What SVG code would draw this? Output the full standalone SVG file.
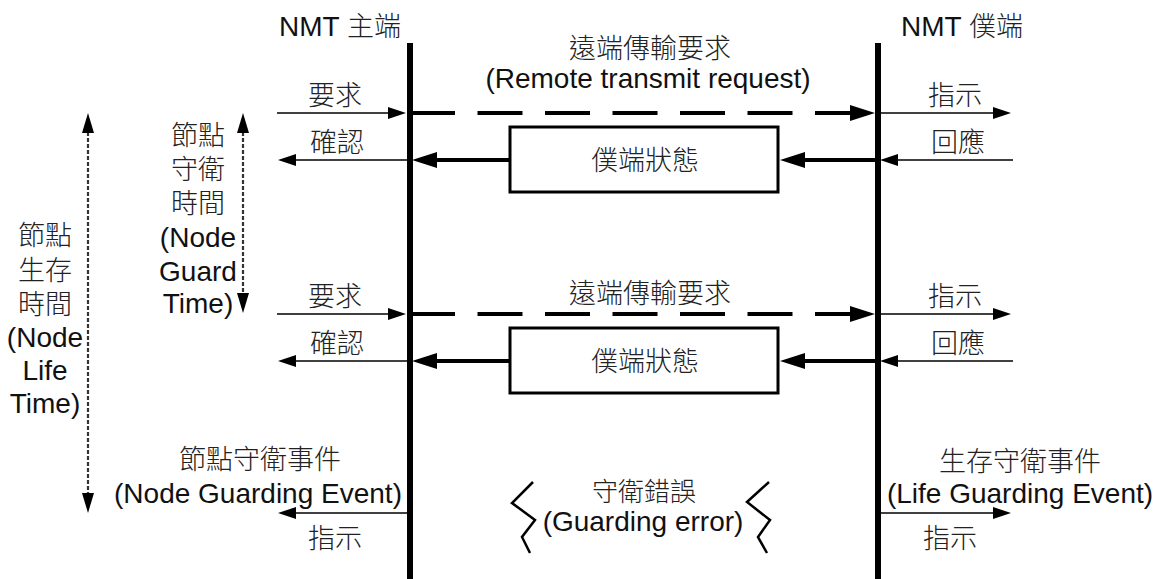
<svg xmlns="http://www.w3.org/2000/svg" width="1161" height="579" viewBox="0 0 1161 579">
<style>
text{font-family:"Liberation Sans","Noto Sans CJK TC",sans-serif;fill:#111;text-anchor:middle}
.t{font-size:28px}
.c{font-size:27px;font-weight:300;fill:#222}
.thin{stroke:#000;stroke-width:1.5;fill:none}
.thick{stroke:#000;stroke-width:4;fill:none}
.dash{stroke:#000;stroke-width:4;fill:none;stroke-dasharray:45 22.5}
.dot{stroke:#333;stroke-width:2.2;fill:none;stroke-dasharray:4 2}
.life{stroke:#000;stroke-width:6;fill:none}
.box{stroke:#000;stroke-width:3;fill:#fff}
.zz{stroke:#000;stroke-width:2.5;fill:none;stroke-linejoin:miter}
</style>
<defs>
<marker id="aThin" markerUnits="userSpaceOnUse" markerWidth="18" markerHeight="12" refX="1" refY="6" orient="auto"><path d="M0,0 L18,6 L0,12 z" fill="#000"/></marker>
<marker id="aThick" markerUnits="userSpaceOnUse" markerWidth="25" markerHeight="16" refX="1" refY="8" orient="auto"><path d="M0,0 L25,8 L0,16 z" fill="#000"/></marker>
<marker id="aDot" markerUnits="userSpaceOnUse" markerWidth="20" markerHeight="12" refX="1" refY="6" orient="auto-start-reverse"><path d="M0,0 L20,6 L0,12 z" fill="#000"/></marker>
</defs>

<g id="master">
<line class="life" x1="410" y1="43" x2="410" y2="579"/>
<text class="t" x="340" y="36">NMT <tspan class="c">主端</tspan></text>
</g>
<g id="slave">
<line class="life" x1="878" y1="43" x2="878" y2="579"/>
<text class="t" x="962" y="36">NMT <tspan class="c">僕端</tspan></text>
</g>

<g id="state1">
<rect class="box" x="510" y="127" width="268" height="65"/>
<text class="c" x="645" y="170">僕端狀態</text>
</g>
<g id="state2">
<rect class="box" x="510" y="328" width="268" height="65"/>
<text class="c" x="645" y="371">僕端狀態</text>
</g>

<g id="connectors">
<line class="thin" x1="277" y1="113" x2="389" y2="113" marker-end="url(#aThin)"/>
<line class="dash" x1="410" y1="113" x2="851" y2="113" marker-end="url(#aThick)"/>
<line class="thin" x1="880" y1="113" x2="994" y2="113" marker-end="url(#aThin)"/>
<line class="thin" x1="408" y1="160" x2="295" y2="160" marker-end="url(#aThin)"/>
<line class="thick" x1="510" y1="160" x2="436" y2="160" marker-end="url(#aThick)"/>
<line class="thick" x1="877" y1="160" x2="804" y2="160" marker-end="url(#aThick)"/>
<line class="thin" x1="1013" y1="160" x2="897" y2="160" marker-end="url(#aThin)"/>
<line class="thin" x1="277" y1="314" x2="389" y2="314" marker-end="url(#aThin)"/>
<line class="dash" x1="410" y1="314" x2="851" y2="314" marker-end="url(#aThick)"/>
<line class="thin" x1="880" y1="314" x2="994" y2="314" marker-end="url(#aThin)"/>
<line class="thin" x1="408" y1="361" x2="295" y2="361" marker-end="url(#aThin)"/>
<line class="thick" x1="510" y1="361" x2="436" y2="361" marker-end="url(#aThick)"/>
<line class="thick" x1="877" y1="361" x2="804" y2="361" marker-end="url(#aThick)"/>
<line class="thin" x1="1013" y1="361" x2="897" y2="361" marker-end="url(#aThin)"/>
<line class="thin" x1="408" y1="513" x2="295" y2="513" marker-end="url(#aThin)"/>
<line class="thin" x1="880" y1="513" x2="994" y2="513" marker-end="url(#aThin)"/>
<line class="dot" x1="88" y1="132" x2="88" y2="494" marker-start="url(#aDot)" marker-end="url(#aDot)"/>
<line class="dot" x1="243" y1="132" x2="243" y2="294" marker-start="url(#aDot)" marker-end="url(#aDot)"/>
<polyline class="zz" points="533,482 512,503 535,520 522,537 530,553"/>
<polyline class="zz" points="769,482 747,502 770,520 758,537 767,553"/>
</g>

<g id="labels">
<text class="c" x="650" y="58">遠端傳輸要求</text>
<text class="t" x="648" y="88">(Remote transmit request)</text>
<text class="c" x="335" y="105">要求</text>
<text class="c" x="337" y="152">確認</text>
<text class="c" x="955" y="105">指示</text>
<text class="c" x="958" y="152">回應</text>

<text class="c" x="650" y="303">遠端傳輸要求</text>
<text class="c" x="335" y="306">要求</text>
<text class="c" x="337" y="353">確認</text>
<text class="c" x="955" y="306">指示</text>
<text class="c" x="958" y="353">回應</text>

<text class="c" x="198" y="145">節點</text>
<text class="c" x="198" y="179">守衛</text>
<text class="c" x="198" y="213">時間</text>
<text class="t" x="198" y="247">(Node</text>
<text class="t" x="198" y="281">Guard</text>
<text class="t" x="198" y="313">Time)</text>

<text class="c" x="45" y="245">節點</text>
<text class="c" x="45" y="280">生存</text>
<text class="c" x="45" y="314">時間</text>
<text class="t" x="45" y="347">(Node</text>
<text class="t" x="45" y="380">Life</text>
<text class="t" x="45" y="413">Time)</text>

<text class="c" x="260" y="469">節點守衛事件</text>
<text class="t" x="258" y="503">(Node Guarding Event)</text>
<text class="c" x="335" y="548">指示</text>

<text class="c" x="644" y="501" style="font-size:26px">守衛錯誤</text>
<text class="t" x="643" y="531">(Guarding error)</text>

<text class="c" x="1020" y="471">生存守衛事件</text>
<text class="t" x="1020" y="503">(Life Guarding Event)</text>
<text class="c" x="950" y="548">指示</text>
</g>
</svg>
